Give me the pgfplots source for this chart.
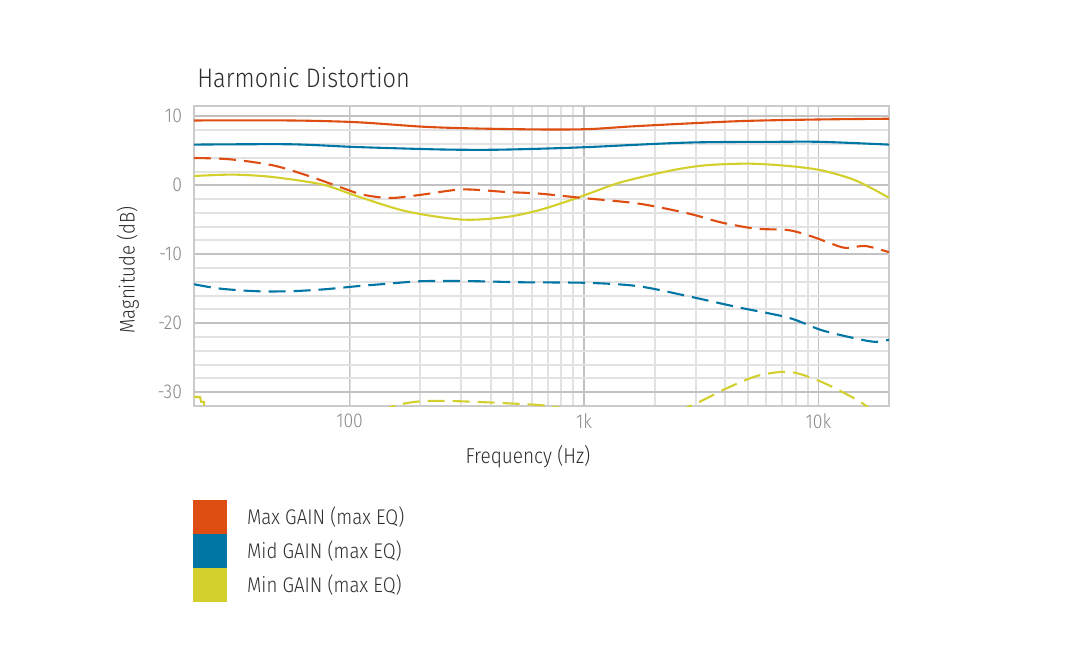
\documentclass[border=0pt]{standalone}
\usepackage{fontspec}
\setmainfont{Fira Sans Light}[FakeStretch=0.88]
\usepackage{pgfplots}
\pgfplotsset{compat=1.18}
\definecolor{MaxOr}{RGB}{222,78,19}
\definecolor{MidBl}{RGB}{0,118,164}
\definecolor{MinYe}{RGB}{211,208,46}
\definecolor{GridMaj}{RGB}{194,194,194}
\definecolor{GridMin}{RGB}{226,226,226}
\definecolor{TickGray}{RGB}{135,135,135}
\definecolor{TxtDark}{RGB}{45,45,45}

\begin{document}
\begin{tikzpicture}
\path (0,0) rectangle (540pt,324pt);
\node[anchor=base west, inner sep=0pt, text=TxtDark, font=\fontsize{13.4}{16}\selectfont] at (98.5pt,280pt) {Harmonic Distortion};
\begin{axis}[at={(97pt,121pt)}, anchor=south west, scale only axis,
	width=347.5pt, height=150pt,
	xmode=log, xmin=21.7, xmax=20000, ymin=-32, ymax=11.5,
	xtick={100,1000,10000}, xticklabels={100,1k,10k},
	ytick={-30,-20,-10,0,10}, yticklabels={-30,-20,-10,0,10},
	minor y tick num=4,
	grid=both,
	major grid style={GridMaj, line width=0.9pt},
	minor grid style={GridMin, line width=1pt},
	axis line style={draw=GridMaj!85, line width=1.1pt},
	major tick length=0pt, minor tick length=0pt,
	tick label style={text=TickGray, font=\fontsize{10}{12}\selectfont},
	yticklabel style={xshift=-2.5pt},
	xticklabel style={yshift=-0.5pt},
	legend style={at={(0,0)}, anchor=north west, xshift=-0.5pt, yshift=-47pt,
		draw=none, fill=none, inner sep=0pt, outer sep=0pt,
		row sep=0pt, column sep=10pt,
		font=\fontsize{10.6}{12}\selectfont, text=TxtDark,
		nodes={inner sep=0pt}},
	legend cell align=left,
	legend image code/.code={\fill[#1] (0pt,-8pt) rectangle (16pt,8pt);},
	every axis plot/.append style={line width=1.05pt}]

\addplot[MaxOr, smooth] coordinates {
	(21.7,9.4) (55.6,9.4) (107,9.15) (204.5,8.5) (333.8,8.25) (643,8.1)
	(1050,8.15) (1714,8.6) (4566,9.3) (10300,9.55) (20000,9.65)};
\addlegendentry{Max GAIN (max EQ)}
\addplot[MidBl, smooth] coordinates {
	(21.7,5.9) (55.6,5.95) (107,5.55) (241.5,5.2) (400,5.15) (643,5.3)
	(1050,5.55) (2798,6.2) (6310,6.3) (10300,6.3) (20000,5.9)};
\addlegendentry{Mid GAIN (max EQ)}
\addplot[MinYe, smooth] coordinates {
	(21.7,1.35) (31.8,1.55) (47,1.2) (76.8,0.1) (107,-1.55) (174.8,-3.77)
	(302.6,-4.97) (465.8,-4.6) (643.4,-3.6) (888.9,-2.08) (1050,-1.2)
	(1451,0.48) (2368,2.17) (3304,2.9) (5036,3.14) (7455,2.8) (10300,2.17)
	(14370,0.72) (20000,-1.8)};
\addlegendentry{Min GAIN (max EQ)}

\addplot[MaxOr, smooth, dash pattern=on 8.5pt off 4pt, forget plot] coordinates {
	(21.7,3.96) (30.9,3.77) (47,2.9) (65.6,1.45) (90.7,-0.24) (113.6,-1.35)
	(150,-1.84) (204.5,-1.35) (302.6,-0.6) (465.8,-0.97) (643.4,-1.2)
	(980.6,-1.83) (1714,-2.66) (2798,-4.1) (3866,-5.4) (5395,-6.28)
	(7455,-6.5) (9338,-7.4) (11030,-8.3) (13030,-9.08) (15850,-8.8)
	(20000,-9.7)};
\addplot[MidBl, smooth, dash pattern=on 8.5pt off 4pt, forget plot] coordinates {
	(21.7,-14.35) (28,-14.98) (40.2,-15.36) (55.6,-15.36) (76.8,-15.1)
	(107,-14.64) (148,-14.25) (204.5,-13.9) (333.8,-13.9) (544.6,-14.06)
	(1050,-14.15) (1714,-14.64) (2798,-16.1) (4566,-17.7) (7455,-19.2)
	(10300,-21.0) (14370,-22.2) (17480,-22.7) (20000,-22.4)};
\addplot[MinYe, dash pattern=on 8.5pt off 4pt, forget plot] coordinates {
	(21.7,-30.7) (23.0,-30.7) (23.3,-31.4) (23.9,-31.4) (24.3,-33.5)};
\addplot[MinYe, smooth, dash pattern=on 8.5pt off 4pt, forget plot] coordinates {
	(40,-36) (110,-33.6) (158.5,-31.9) (204.5,-31.3) (285.4,-31.3)
	(465.8,-31.6) (709.8,-32.0) (1100,-33.2) (2000,-33.6) (2882,-31.9)
	(4020,-29.5) (5395,-27.7) (6962,-27.05) (8222,-27.3) (10300,-28.5)
	(13030,-30.2) (15540,-31.7) (20000,-34.5)};
\end{axis}
\node[text=TxtDark, font=\fontsize{10.8}{12}\selectfont] at (264pt,95.5pt) {Frequency (Hz)};
\node[rotate=90, text=TxtDark, font=\fontsize{10.6}{12}\selectfont] at (64pt,189pt) {Magnitude (dB)};
\end{tikzpicture}
\end{document}
